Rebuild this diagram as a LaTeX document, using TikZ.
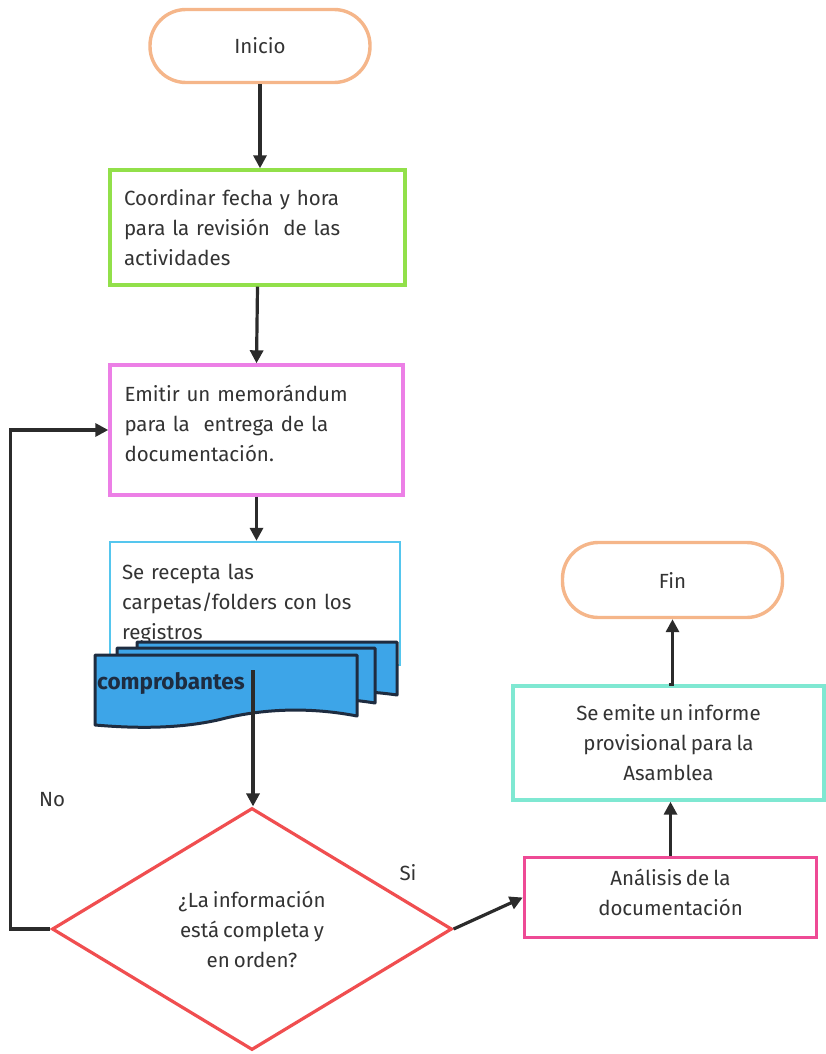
\documentclass[tikz,border=0pt]{standalone}
\usepackage{fontspec}
\setmainfont{Fira Sans}[WordSpace=0.75]
\usetikzlibrary{arrows.meta,shapes.geometric}

\definecolor{txt}{HTML}{333333}
\definecolor{arr}{HTML}{2B2B2B}
\definecolor{peach}{HTML}{F5B68A}
\definecolor{lime}{HTML}{92E04A}
\definecolor{orchid}{HTML}{EC7FE6}
\definecolor{sky}{HTML}{55C6EE}
\definecolor{docfill}{HTML}{3DA5E8}
\definecolor{docline}{HTML}{1E2C40}
\definecolor{redline}{HTML}{F04E50}
\definecolor{hotpink}{HTML}{EE4A95}
\definecolor{aqua}{HTML}{7FE8D2}

\begin{document}
\begin{tikzpicture}[x=1pt,y=-1pt,
  every node/.style={font=\fontsize{20.5}{30}\selectfont, text=txt},
  flow/.style={draw=arr, line width=3.2pt, -{Triangle[length=13pt,width=13pt]}},
  box/.style={rectangle, line width=3.4pt, fill=white, inner sep=0pt},
  terminal/.style={box, rounded corners=36pt},
  leftbox/.style={box, align=left},
  midbox/.style={box, align=center},
  doclayer/.style={draw=docline, fill=docfill, line width=3pt, line join=round}
]
\useasboundingbox (0,0) rectangle (826,1054);

% start and first two steps
\node[terminal, draw=peach, minimum width=220pt, minimum height=73pt] (inicio) at (260,46) {Inicio};
\node[leftbox, draw=lime, minimum width=295pt, minimum height=115pt, text width=267pt] (coord) at (257.5,227.5)
  {Coordinar fecha y hora\\para la revisión\ \ de las\\actividades};
\node[leftbox, draw=orchid, minimum width=293pt, minimum height=130pt, text width=264pt, text depth=73pt] (memo) at (256.5,430)
  {Emitir un memorándum\\para la\ \ entrega de la\\documentación.};

% reception box with the stacked documents in front of it
\node[leftbox, draw=sky, line width=2.4pt, minimum width=290pt, minimum height=123pt, text width=266pt] (recepta) at (255,603.5)
  {Se recepta las\\carpetas/folders con los\\registros};

\path[doclayer] (137,642) -- (397,642) -- (397,695)
  .. controls (350,688) and (300,692) .. (268,698)
  .. controls (220,708) and (170,704) .. (137,700) -- cycle;
\path[doclayer] (117,648) -- (375,648) -- (375,703)
  .. controls (325,695) and (280,699) .. (247,706)
  .. controls (200,716) and (150,712) .. (117,708) -- cycle;
\path[doclayer] (95,655) -- (357,655) -- (357,716)
  .. controls (305,706) and (260,710) .. (226,718)
  .. controls (180,730) and (130,728) .. (95,725) -- cycle;
\node[anchor=west, inner sep=0pt, text=docline, font=\fontsize{22.5}{24}\selectfont\bfseries] (comp) at (97,683) {comprobantes};
\coordinate (docout) at (253,670);

% decision
\node[diamond, draw=redline, line width=3.2pt, fill=white, inner sep=0pt,
      minimum width=400pt, minimum height=242pt, align=center] (dec) at (252,929)
  {¿La información\\está completa y\\en orden?};

% closing steps
\node[midbox, draw=hotpink, minimum width=292pt, minimum height=80pt, text depth=11pt] (anal) at (670.5,897.5)
  {Análisis de la\\documentación};
\node[midbox, draw=aqua, minimum width=311pt, minimum height=114pt] (inf) at (668.5,743)
  {Se emite un informe\\provisional para la\\Asamblea};
\node[terminal, draw=peach, minimum width=220pt, minimum height=75pt] (fin) at (672.5,580) {Fin};

% branch labels
\node (no) at (52,800) {No};
\node (si) at (408,873) {Si};

% connectors
\draw[flow] (inicio.south) -- (inicio.south |- coord.north);
\draw[flow] (coord.south) -- (memo.north);
\draw[flow] (memo.south) -- (memo.south |- recepta.north);
\draw[flow] (docout) -- (docout |- dec.north);
\draw[flow] (dec.west) -- ++(-40,0) |- (memo.west);
\draw[flow] (dec.east) -- (anal.west);
\draw[flow] (anal.north) -- (anal.north |- inf.south);
\draw[flow] (inf.north) -- (inf.north -| fin.south) -- (fin.south);
\end{tikzpicture}
\end{document}
